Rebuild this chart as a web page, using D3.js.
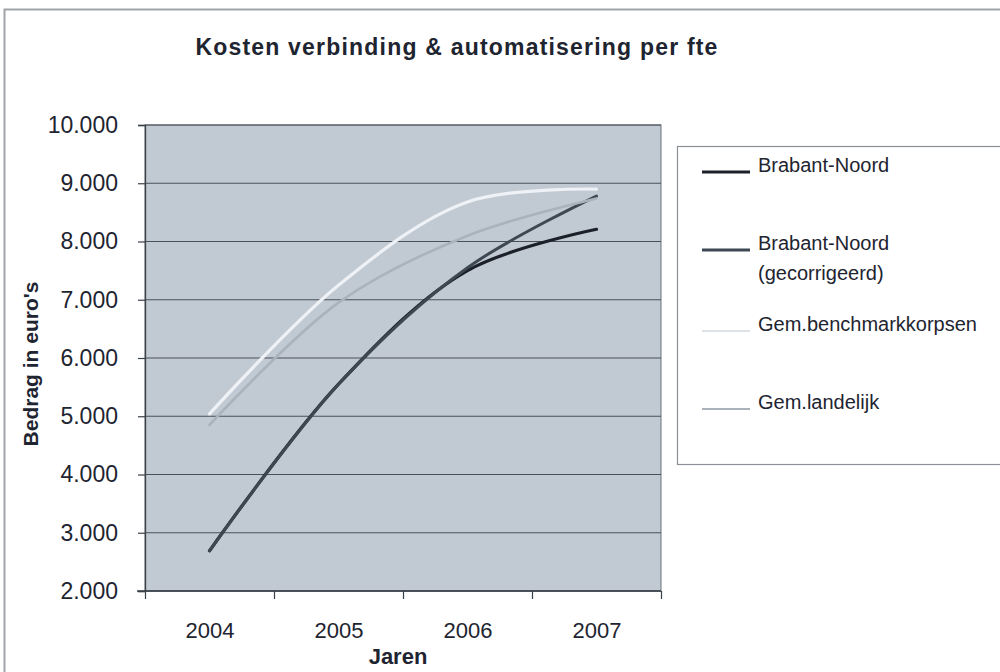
<!DOCTYPE html>
<html>
<head>
<meta charset="utf-8">
<script src="https://cdn.jsdelivr.net/npm/d3@7"></script>
<style>
  body { margin: 0; background: #fff; }
  text { font-family: "Liberation Sans", Arial, sans-serif; fill: #1e2430; }
</style>
</head>
<body>
<div id="chart"></div>
<script>
// data
var years = ["2004", "2005", "2006", "2007"];
var brabantNoord = [2690, 5550, 7500, 8210];
var brabantNoordGecorr = [2690, 5550, 7550, 8780];
var benchmarkKorpsen = [5040, 7250, 8680, 8900];
var landelijk = [4850, 6950, 8100, 8740];
var seriesNames = ["Brabant-Noord", "Brabant-Noord|(gecorrigeerd)", "Gem.benchmarkkorpsen", "Gem.landelijk"];
var yTicks = [2000, 3000, 4000, 5000, 6000, 7000, 8000, 9000, 10000];

var width = 1000, height = 672;
var plot = { left: 145, right: 661, top: 125, bottom: 591 };

var svg = d3.select("#chart").append("svg")
    .attr("width", width)
    .attr("height", height);

// outer chart frame
svg.append("rect")
    .attr("x", 4.5).attr("y", 9.5)
    .attr("width", 1100).attr("height", 800)
    .attr("fill", "#fff")
    .attr("stroke", "#a0a4a8").attr("stroke-width", 2);

var nl = d3.formatLocale({ decimal: ",", thousands: ".", grouping: [3], currency: ["€", ""] });
var fmt = nl.format(",.0f");

var x = d3.scaleLinear().domain([-0.5, years.length - 0.5]).range([plot.left, plot.right]);
var y = d3.scaleLinear().domain([2000, 10000]).range([plot.bottom, plot.top]);

// plot area
svg.append("rect")
    .attr("x", plot.left).attr("y", plot.top)
    .attr("width", plot.right - plot.left).attr("height", plot.bottom - plot.top)
    .attr("fill", "#c1c9d2")
    .attr("stroke", "#6a7078").attr("stroke-width", 1);

// gridlines
svg.append("g")
    .selectAll("line")
    .data(yTicks)
    .enter().append("line")
    .attr("x1", plot.left).attr("x2", plot.right)
    .attr("y1", function(d) { return y(d); })
    .attr("y2", function(d) { return y(d); })
    .attr("stroke", "#4a5058").attr("stroke-width", 1.2);

// y axis
var yAxis = svg.append("g")
    .attr("transform", "translate(" + plot.left + ",0)")
    .call(d3.axisLeft(y).tickValues(yTicks).tickFormat(fmt).tickSize(7).tickPadding(20));
yAxis.select(".domain").attr("stroke", "#3a4048").attr("stroke-width", 1.3);
yAxis.selectAll(".tick line").attr("stroke", "#3a4048").attr("stroke-width", 1.2);
yAxis.selectAll(".tick text")
    .style("font-size", "23px")
    .style("font-family", "'Liberation Sans', Arial, sans-serif")
    .attr("fill", "#1e2430");

// x axis: ticks between categories, labels at centers
var xTickPos = d3.range(-0.5, years.length, 1);
var xAxis = svg.append("g")
    .attr("transform", "translate(0," + plot.bottom + ")")
    .call(d3.axisBottom(x).tickValues(xTickPos).tickFormat("").tickSize(8).tickSizeOuter(0));
xAxis.select(".domain").attr("stroke", "#3a4048").attr("stroke-width", 1.3)
    .attr("d", "M" + (plot.left - 8) + ",0H" + plot.right);
xAxis.selectAll(".tick line").attr("stroke", "#3a4048").attr("stroke-width", 1.2);

var xLabels = svg.append("g")
    .attr("transform", "translate(0," + plot.bottom + ")")
    .call(d3.axisBottom(x).tickValues(d3.range(years.length)).tickFormat(function(d) { return years[d]; }).tickSize(0).tickPadding(31));
xLabels.select(".domain").remove();
xLabels.selectAll(".tick text")
    .style("font-size", "22px")
    .style("font-family", "'Liberation Sans', Arial, sans-serif")
    .attr("fill", "#1e2430");

// titles
svg.append("text")
    .attr("x", 457).attr("y", 55)
    .attr("text-anchor", "middle")
    .style("font-size", "23px").style("font-weight", "bold")
    .style("letter-spacing", "1.2px")
    .text("Kosten verbinding & automatisering per fte");

svg.append("text")
    .attr("x", 398).attr("y", 664)
    .attr("text-anchor", "middle")
    .style("font-size", "22px").style("font-weight", "bold")
    .text("Jaren");

svg.append("text")
    .attr("transform", "translate(38,364) rotate(-90)")
    .attr("text-anchor", "middle")
    .style("font-size", "21px").style("font-weight", "bold")
    .text("Bedrag in euro's");

// lines
var allSeries = [brabantNoord, brabantNoordGecorr, benchmarkKorpsen, landelijk];
var colors = ["#1b2029", "#3d4852", "#eef2f6", "#aab2bb"];
var widths = [3.2, 3, 3.2, 2.6];

var line = d3.line()
    .x(function(d, i) { return x(i); })
    .y(function(d) { return y(d); })
    .curve(d3.curveCatmullRom.alpha(0.5));

svg.append("g")
    .selectAll("path")
    .data(allSeries)
    .enter().append("path")
    .attr("d", line)
    .attr("fill", "none")
    .attr("stroke", function(d, i) { return colors[i]; })
    .attr("stroke-width", function(d, i) { return widths[i]; })
    .attr("stroke-linecap", "round");

// legend
var legend = svg.append("g");
legend.append("rect")
    .attr("x", 677.5).attr("y", 146.5)
    .attr("width", 340).attr("height", 318)
    .attr("fill", "#fff")
    .attr("stroke", "#8a9096").attr("stroke-width", 1.2);

var legendY = [172, 250, 331, 409];
var items = legend.selectAll(".legend-item")
    .data(seriesNames)
    .enter().append("g")
    .attr("class", "legend-item")
    .attr("transform", function(d, i) { return "translate(0," + legendY[i] + ")"; });

items.append("line")
    .attr("x1", 702).attr("x2", 750)
    .attr("y1", 0).attr("y2", 0)
    .attr("stroke", function(d, i) { return i === 2 ? "#dde2e7" : colors[i]; })
    .attr("stroke-width", function(d, i) { return i > 1 ? 2 : 3; });

items.append("text")
    .attr("x", 758).attr("y", 0)
    .attr("dy", ".35em")
    .style("font-size", "20px")
    .selectAll("tspan")
    .data(function(d) { return d.split("|"); })
    .enter().append("tspan")
    .attr("x", 758)
    .attr("dy", function(d, i) { return i === 0 ? 0 : 30; })
    .text(function(d) { return d; });
</script>
</body>
</html>
